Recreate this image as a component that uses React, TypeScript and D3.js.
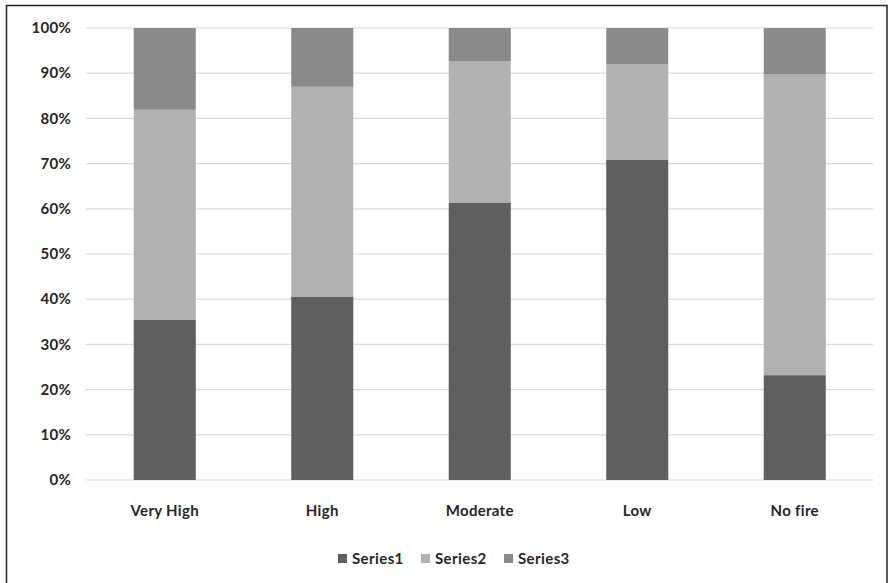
import React from "react";
import * as d3 from "d3";

const categories = ["Very High", "High", "Moderate", "Low", "No fire"];
const series1 = [35.4, 40.6, 61.4, 70.8, 23.2];
const series2 = [46.5, 46.4, 31.2, 21.2, 66.5];
const series3 = [18.1, 13.0, 7.4, 8.0, 10.3];
const seriesNames = ["Series1", "Series2", "Series3"];
const seriesColors = ["#5f5f5f", "#b1b1b1", "#8a8a8a"];
const yTicks = [0, 10, 20, 30, 40, 50, 60, 70, 80, 90, 100];

const W = 888;
const H = 583;
const plot = { left: 86, right: 873.5, top: 28, bottom: 480 };
const FONT = "Lato, 'Open Sans', sans-serif";

export default function App() {
  const rows = categories.map((c, i) => ({
    cat: c,
    Series1: series1[i],
    Series2: series2[i],
    Series3: series3[i],
  }));
  const stacked = d3.stack<any>().keys(seriesNames)(rows);

  const x = d3
    .scaleBand<string>()
    .domain(categories)
    .range([plot.left, plot.right])
    .paddingInner(0.606)
    .paddingOuter(0.303);
  const y = d3.scaleLinear().domain([0, 100]).range([plot.bottom, plot.top]);

  const legendX = [338, 421, 504];

  return (
    <svg
      width={W}
      height={H}
      style={{ position: "fixed", left: 0, top: 0, background: "#fff" }}
    >
      <rect x={0} y={0} width={W} height={H} fill="#fff" />
      <rect
        x={6.5}
        y={5.5}
        width={880.5}
        height={620}
        fill="none"
        stroke="#222"
        strokeWidth={1.5}
      />
      {yTicks.map((t) => (
        <g key={t}>
          <line
            x1={plot.left}
            x2={plot.right}
            y1={y(t)}
            y2={y(t)}
            stroke="#d9d9d9"
            strokeWidth={1.2}
          />
          <text
            x={71}
            y={y(t)}
            dy="0.35em"
            textAnchor="end"
            fontFamily={FONT}
            fontWeight="bold"
            fontSize={15}
            letterSpacing={0.3}
            fill="#262626"
          >
            {t}%
          </text>
        </g>
      ))}
      {stacked.map((s, si) => (
        <g key={s.key} fill={seriesColors[si]}>
          {s.map((d, i) => (
            <rect
              key={i}
              x={x(categories[i])}
              y={y(d[1])}
              width={x.bandwidth()}
              height={y(d[0]) - y(d[1])}
            />
          ))}
        </g>
      ))}
      {categories.map((c) => (
        <text
          key={c}
          x={(x(c) as number) + x.bandwidth() / 2}
          y={516}
          textAnchor="middle"
          fontFamily={FONT}
          fontWeight="bold"
          fontSize={15}
          letterSpacing={0.3}
          fill="#262626"
        >
          {c}
        </text>
      ))}
      {seriesNames.map((n, i) => (
        <g key={n} transform={`translate(${legendX[i]},0)`}>
          <rect x={0} y={554} width={9} height={9} fill={seriesColors[i]} />
          <text
            x={14}
            y={563.5}
            fontFamily={FONT}
            fontWeight="bold"
            fontSize={15}
            letterSpacing={0.4}
            fill="#262626"
          >
            {n}
          </text>
        </g>
      ))}
    </svg>
  );
}
